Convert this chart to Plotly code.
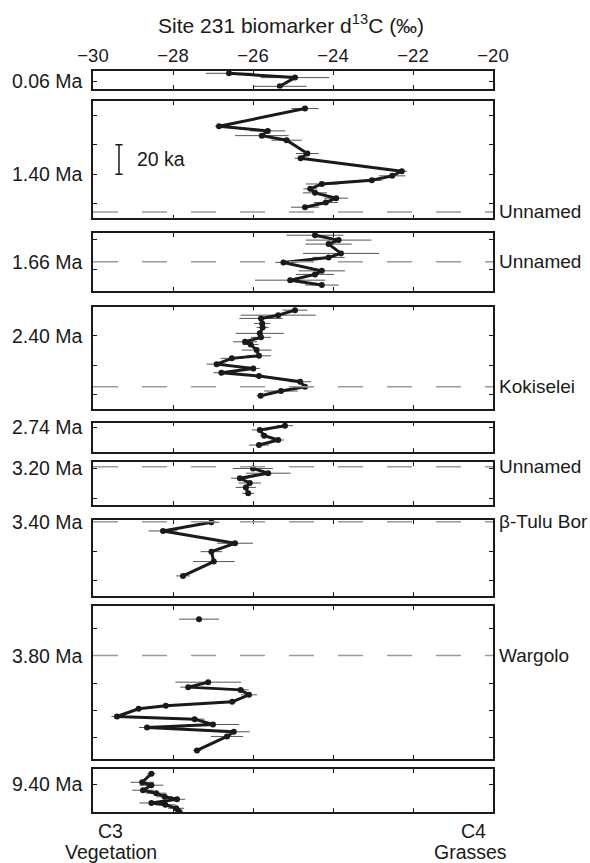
import plotly.graph_objects as go

# ---------------- data ----------------
panel_labels = ["0.06 Ma", "1.40 Ma", "1.66 Ma", "2.40 Ma", "2.74 Ma",
                "3.20 Ma", "3.40 Ma", "3.80 Ma", "9.40 Ma"]
label_ages = [0.06, 1.40, 1.66, 2.40, 2.74, 3.20, 3.40, 3.80, 9.40]

p1_age = [0.0546, 0.0575, 0.0634]
p1_d13c = [-26.60, -24.95, -25.33]
p1_err = [0.58, 0.86, 0.67]

p2_age = [1.3556, 1.3676, 1.3707, 1.3739, 1.3770, 1.3860, 1.3892, 1.3980,
          1.4011, 1.4041, 1.4066, 1.4099, 1.4126, 1.4162, 1.4191, 1.4223]
p2_d13c = [-24.70, -26.85, -25.63, -25.78, -25.16, -24.64, -24.81, -22.28,
           -22.52, -23.03, -24.28, -24.57, -24.45, -23.92, -24.18, -24.70]
p2_err = [0.34, 0.10, 0.44, 0.67, 0.38, 0.28, 0.15, 0.13,
          0.33, 0.25, 0.40, 0.17, 0.30, 0.30, 0.30, 0.35]

p3_age = [1.6420, 1.6453, 1.6480, 1.6543, 1.6570, 1.6604, 1.6661, 1.6685,
          1.6724, 1.6757]
p3_d13c = [-24.45, -23.86, -24.11, -23.80, -24.11, -25.24, -24.28, -24.45,
           -25.07, -24.28]
p3_err = [0.71, 0.82, 0.58, 0.95, 0.40, 0.20, 0.58, 0.48, 0.88, 0.42]

p4_age = [2.3828, 2.3862, 2.3884, 2.3918, 2.3945, 2.3985, 2.4012, 2.4042,
          2.4060, 2.4098, 2.4137, 2.4154, 2.4193, 2.4222, 2.4251, 2.4274,
          2.4312, 2.4346, 2.4375, 2.4407]
p4_d13c = [-24.95, -25.37, -25.80, -25.77, -25.76, -25.83, -25.80, -26.20,
           -26.06, -25.91, -25.85, -26.53, -26.91, -25.99, -26.79, -25.85,
           -24.82, -24.70, -25.30, -25.81]
p4_err = [0.31, 0.94, 0.54, 0.20, 0.15, 0.60, 0.25, 0.30, 0.20, 0.37,
          0.30, 0.28, 0.25, 0.16, 0.20, 0.15, 0.27, 0.20, 0.42, 0.10]

p5_age = [2.7389, 2.7418, 2.7457, 2.7486, 2.7520]
p5_d13c = [-25.20, -25.83, -25.72, -25.37, -25.85]
p5_err = [0.20, 0.20, 0.10, 0.15, 0.25]

p6_age = [3.2000, 3.2032, 3.2066, 3.2098, 3.2128, 3.2168]
p6_d13c = [-26.00, -25.62, -26.33, -26.08, -26.18, -26.12]
p6_err = [0.50, 0.56, 0.22, 0.28, 0.25, 0.15]

p7_age = [3.4004, 3.4063, 3.4146, 3.4203, 3.4270, 3.4367]
p7_d13c = [-27.04, -28.25, -26.45, -27.04, -26.98, -27.75]
p7_err = [0.20, 0.36, 0.45, 0.27, 0.52, 0.17]

# None marks the break between the isolated upper sample and the lower run
p8_age = [3.7735, None, 3.8194, 3.8230, 3.8250, 3.8286, 3.8337, 3.8366,
          3.8388, 3.8444, 3.8463, 3.8502, 3.8524, 3.8555, 3.8589, 3.8691]
p8_d13c = [-27.35, None, -27.12, -27.62, -26.31, -26.10, -26.52, -28.18,
           -28.86, -29.40, -27.46, -27.00, -28.65, -26.48, -26.65, -27.40]
p8_err = [0.50, None, 0.82, 0.20, 0.20, 0.20, 0.10, 0.15,
          0.08, 0.14, 0.25, 0.65, 0.20, 0.40, 0.40, 0.10]

p9_age = [9.3930, 9.3988, 9.4008, 9.4042, 9.4062, 9.4086, 9.4103, 9.4128,
          9.4140, 9.4164, 9.4184]
p9_d13c = [-28.54, -28.77, -28.54, -28.75, -28.42, -28.21, -27.90, -28.54,
           -28.19, -27.92, -27.85]
p9_err = [0.10, 0.29, 0.30, 0.27, 0.25, 0.20, 0.20, 0.30, 0.25, 0.20, 0.10]

tephra_names = ["Unnamed", "Unnamed", "Kokiselei", "Unnamed", "β-Tulu Bor", "Wargolo"]
tephra_panel = [2, 3, 4, 6, 7, 8]
tephra_ages = [1.4255, 1.66, 2.4346, 3.1988, 3.40, 3.80]

x_ticks = [-30, -28, -26, -24, -22, -20]

ages = [p1_age, p2_age, p3_age, p4_age, p5_age, p6_age, p7_age, p8_age, p9_age]
vals = [p1_d13c, p2_d13c, p3_d13c, p4_d13c, p5_d13c, p6_d13c, p7_d13c, p8_d13c, p9_d13c]
errs = [p1_err, p2_err, p3_err, p4_err, p5_err, p6_err, p7_err, p8_err, p9_err]

# ---------------- layout helpers ----------------
y_ranges = [[0.06493, 0.05304], [1.42993, 1.35047], [1.67946, 1.64041],
            [2.44966, 2.38041], [2.75669, 2.73676], [3.22466, 3.19561],
            [3.45000, 3.39885], [3.87535, 3.76385], [9.41892, 9.38986]]
y_ticks = [[0.06], [1.36, 1.38, 1.40, 1.42], [1.645, 1.665], [2.40, 2.42, 2.44],
           [2.74], [3.20, 3.22], [3.40, 3.42, 3.44], [3.78, 3.80, 3.82, 3.84, 3.86],
           [9.40]]
panel_px = [(70.7, 88.3), (100.7, 218.3), (232.7, 290.5), (306.5, 409.0),
            (422.5, 452.0), (462.0, 505.0), (520.0, 595.7), (606.0, 759.3),
            (769.3, 812.3)]

W, H = 590, 863
ML, MR, MT, MB = 93, 97, 70.7, 50.7
PH = H - MT - MB
FONT = "Liberation Sans, Arial, Helvetica, sans-serif"
INK = "#1a1a1a"
LBL = 19.5


def clamp(v):
    return max(0.0, min(1.0, v))


fig = go.Figure()
layout = dict(
    width=W, height=H,
    margin=dict(l=ML, r=MR, t=MT, b=MB),
    paper_bgcolor="white", plot_bgcolor="white",
    font=dict(family=FONT, size=18, color=INK),
    showlegend=False,
)
annotations = []
shapes = []

for i in range(9):
    n = i + 1
    xk = "x" if n == 1 else f"x{n}"
    yk = "y" if n == 1 else f"y{n}"
    fig.add_trace(go.Scatter(
        x=vals[i], y=ages[i], xaxis=xk, yaxis=yk, mode="lines+markers",
        line=dict(color=INK, width=3),
        marker=dict(color=INK, size=6),
        error_x=dict(type="data", array=errs[i], color="#555555", thickness=1, width=0),
        connectgaps=False, hoverinfo="x+y",
    ))
    top, bot = panel_px[i]
    dom = [clamp((H - MB - bot) / PH), clamp((H - MB - top) / PH)]
    layout["xaxis" if n == 1 else f"xaxis{n}"] = dict(
        domain=[0, 1], anchor=yk, range=[-30, -20], tickvals=x_ticks,
        ticks="inside", ticklen=4, tickwidth=1, tickcolor=INK,
        showline=True, linecolor=INK, linewidth=1.5, mirror="ticks",
        showgrid=False, zeroline=False,
        showticklabels=(n == 1), side="top" if n == 1 else "bottom",
        tickfont=dict(size=18.5, color=INK), fixedrange=True,
    )
    layout["yaxis" if n == 1 else f"yaxis{n}"] = dict(
        domain=dom, anchor=xk, range=y_ranges[i], tickvals=y_ticks[i],
        ticks="inside", ticklen=4, tickwidth=1, tickcolor=INK,
        showline=True, linecolor=INK, linewidth=1.5, mirror="ticks",
        showgrid=False, zeroline=False, showticklabels=False, fixedrange=True,
    )
    annotations.append(dict(
        text=panel_labels[i], x=0, xref="paper", xanchor="right", xshift=-8,
        y=label_ages[i], yref=yk,
        yanchor="middle", showarrow=False, font=dict(size=LBL, color=INK),
    ))

for name, p, a in zip(tephra_names, tephra_panel, tephra_ages):
    yk = "y" if p == 1 else f"y{p}"
    shapes.append(dict(type="line", xref="paper", x0=0, x1=1, yref=yk, y0=a, y1=a,
                       line=dict(color="#9a9a9a", width=1.5, dash="25px,24px"),
                       layer="above"))
    annotations.append(dict(text=name, x=1, xref="paper", xanchor="left", xshift=4,
                            y=a, yref=yk, yanchor="middle", showarrow=False,
                            font=dict(size=19, color=INK)))

# 20 ka scale bar in the 1.40 Ma panel
bar_x = -29.35
bar_y0, bar_y1 = 1.38, 1.40
shapes.append(dict(type="line", xref="x2", yref="y2", x0=bar_x, x1=bar_x,
                   y0=bar_y0, y1=bar_y1, line=dict(color=INK, width=1.5)))
for yy in (bar_y0, bar_y1):
    shapes.append(dict(type="line", xref="x2", yref="y2", x0=bar_x - 0.09,
                       x1=bar_x + 0.09, y0=yy, y1=yy, line=dict(color=INK, width=1.5)))
annotations.append(dict(text="20 ka", x=-28.95, xref="x2", xanchor="left",
                        y=(bar_y0 + bar_y1) / 2, yref="y2", yanchor="middle",
                        showarrow=False, font=dict(size=LBL, color=INK)))

# title
annotations.append(dict(text="Site 231 biomarker d<sup>13</sup>C (‰)", x=0.495,
                        xref="paper", xanchor="center", y=1, yref="paper",
                        yanchor="middle", yshift=47, showarrow=False,
                        font=dict(size=21, color=INK)))

# bottom end-member labels
for txt, xp, ys in [("C3", 0.044, -19), ("Vegetation", 0.045, -40),
                    ("C4", 0.951, -19), ("Grasses", 0.944, -40)]:
    annotations.append(dict(text=txt, x=xp, xref="paper", xanchor="center",
                            y=0, yref="paper", yanchor="middle", yshift=ys,
                            showarrow=False, font=dict(size=LBL, color=INK)))

layout["annotations"] = annotations
layout["shapes"] = shapes
fig.update_layout(**layout)
fig.write_html("out.html",
               config={"displayModeBar": False, "staticPlot": False},
               post_script="document.body.style.margin='0';document.body.style.overflow='hidden';")
